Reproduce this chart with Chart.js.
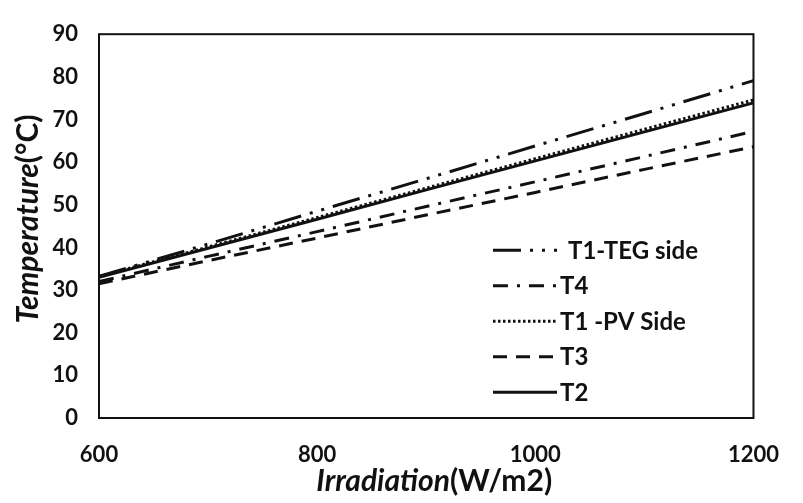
<!DOCTYPE html>
<html>
<head>
<meta charset="utf-8">
<script src="https://cdn.jsdelivr.net/npm/chart.js@4.4.1/dist/chart.umd.min.js"></script>
<style>
  html, body { margin: 0; padding: 0; background: #fff; }
  #wrap { width: 803px; height: 503px; }
</style>
</head>
<body>
<div id="wrap"><canvas id="myChart" width="803" height="503"></canvas></div>
<script>
// Irradiation (W/m2)
const irradiation = [600, 700, 800, 900, 1000, 1100, 1200];

// Temperatures (°C)
const t1TegSide = [33.2, 40.8, 48.5, 56.1, 63.8, 71.4, 79.1];
const t4 = [32.0, 37.9, 43.7, 49.6, 55.4, 61.3, 67.2];
const t1PvSide = [33.2, 40.1, 47.0, 53.9, 60.8, 67.7, 74.6];
const t3 = [31.5, 36.9, 42.2, 47.6, 52.9, 58.3, 63.6];
const t2 = [33.0, 39.8, 46.6, 53.5, 60.3, 67.1, 73.9];

const xTicks = [600, 800, 1000, 1200];
const yTicks = [0, 10, 20, 30, 40, 50, 60, 70, 80, 90];

const seriesNames = ["T1-TEG side", "T4", "T1 -PV Side", "T3", "T2"];

const ink = "#111";
const fontFam = "Lato, 'Open Sans', sans-serif";

function serie(nome, valores, dash) {
  return {
    label: nome,
    data: irradiation.map((x, i) => ({ x: x, y: valores[i] })),
    borderColor: ink,
    borderWidth: 3,
    borderDash: dash,
    pointRadius: 0,
    fill: false,
    tension: 0
  };
}

// moldura + legenda + títulos dos eixos
const extras = {
  id: "extras",
  afterDraw(chart) {
    const { ctx, chartArea } = chart;
    ctx.save();
    ctx.strokeStyle = ink;
    ctx.lineWidth = 2;
    ctx.setLineDash([]);
    ctx.strokeRect(chartArea.left, chartArea.top, chartArea.right - chartArea.left, chartArea.bottom - chartArea.top);

    // legenda
    const lx = chartArea.left + 394;
    let ly = chartArea.top + 216;
    const tx = [lx + 75, lx + 67, lx + 67, lx + 67, lx + 67];
    chart.data.datasets.forEach((ds, i) => {
      ctx.beginPath();
      ctx.lineWidth = 3;
      ctx.strokeStyle = ink;
      ctx.setLineDash(ds.borderDash || []);
      ctx.moveTo(lx, ly);
      ctx.lineTo(lx + 64, ly);
      ctx.stroke();
      ctx.setLineDash([]);
      ctx.fillStyle = ink;
      ctx.font = "bold 24px " + fontFam;
      ctx.textBaseline = "middle";
      ctx.textAlign = "left";
      ctx.fillText(ds.label, tx[i], ly + 1);
      ly += 35.5;
    });

    // título eixo x
    const partes = (a, b, cx, cy) => {
      ctx.font = "italic bold 30px " + fontFam;
      const wa = ctx.measureText(a).width;
      ctx.font = "bold 30px " + fontFam;
      const wb = ctx.measureText(b).width;
      let x0 = cx - (wa + wb) / 2;
      ctx.textAlign = "left";
      ctx.textBaseline = "middle";
      ctx.font = "italic bold 30px " + fontFam;
      ctx.fillText(a, x0, cy);
      ctx.font = "bold 30px " + fontFam;
      ctx.fillText(b, x0 + wa, cy);
    };
    ctx.fillStyle = ink;
    partes("Irradiation", "(W/m2)", (chartArea.left + chartArea.right) / 2 + 8, 481);

    ctx.translate(28, 219);
    ctx.rotate(-Math.PI / 2);
    partes("Temperature", "(°C)", 0, 0);
    ctx.restore();
  }
};

const ctx = document.getElementById("myChart").getContext("2d");
const grafico = new Chart(ctx, {
  type: "line",
  data: {
    datasets: [
      serie(seriesNames[0], t1TegSide, [28, 9, 3, 9, 3, 9]),
      serie(seriesNames[1], t4, [15, 9, 3, 9]),
      serie(seriesNames[2], t1PvSide, [2.5, 2.5]),
      serie(seriesNames[3], t3, [14, 9]),
      serie(seriesNames[4], t2, [])
    ]
  },
  options: {
    responsive: false,
    animation: false,
    layout: { padding: { top: 22, right: 27, left: 0, bottom: 0 } },
    plugins: {
      legend: { display: false },
      tooltip: { enabled: false }
    },
    scales: {
      x: {
        type: "linear",
        min: 600,
        max: 1200,
        afterBuildTicks: (s) => { s.ticks = xTicks.map(v => ({ value: v })); },
        afterFit: (s) => { s.height = 85; },
        grid: { display: false, drawTicks: false },
        border: { display: false },
        ticks: {
          color: ink,
          padding: 24,
          callback: (v) => String(v),
          font: { family: fontFam, size: 22, weight: "bold" }
        }
      },
      y: {
        min: 0,
        max: 90,
        afterBuildTicks: (s) => { s.ticks = yTicks.map(v => ({ value: v })); },
        afterFit: (s) => { s.width = 99; },
        grid: { display: false, drawTicks: false },
        border: { display: false },
        ticks: {
          color: ink,
          padding: 21,
          font: { family: fontFam, size: 22, weight: "bold" }
        }
      }
    }
  },
  plugins: [extras]
});
</script>
</body>
</html>
